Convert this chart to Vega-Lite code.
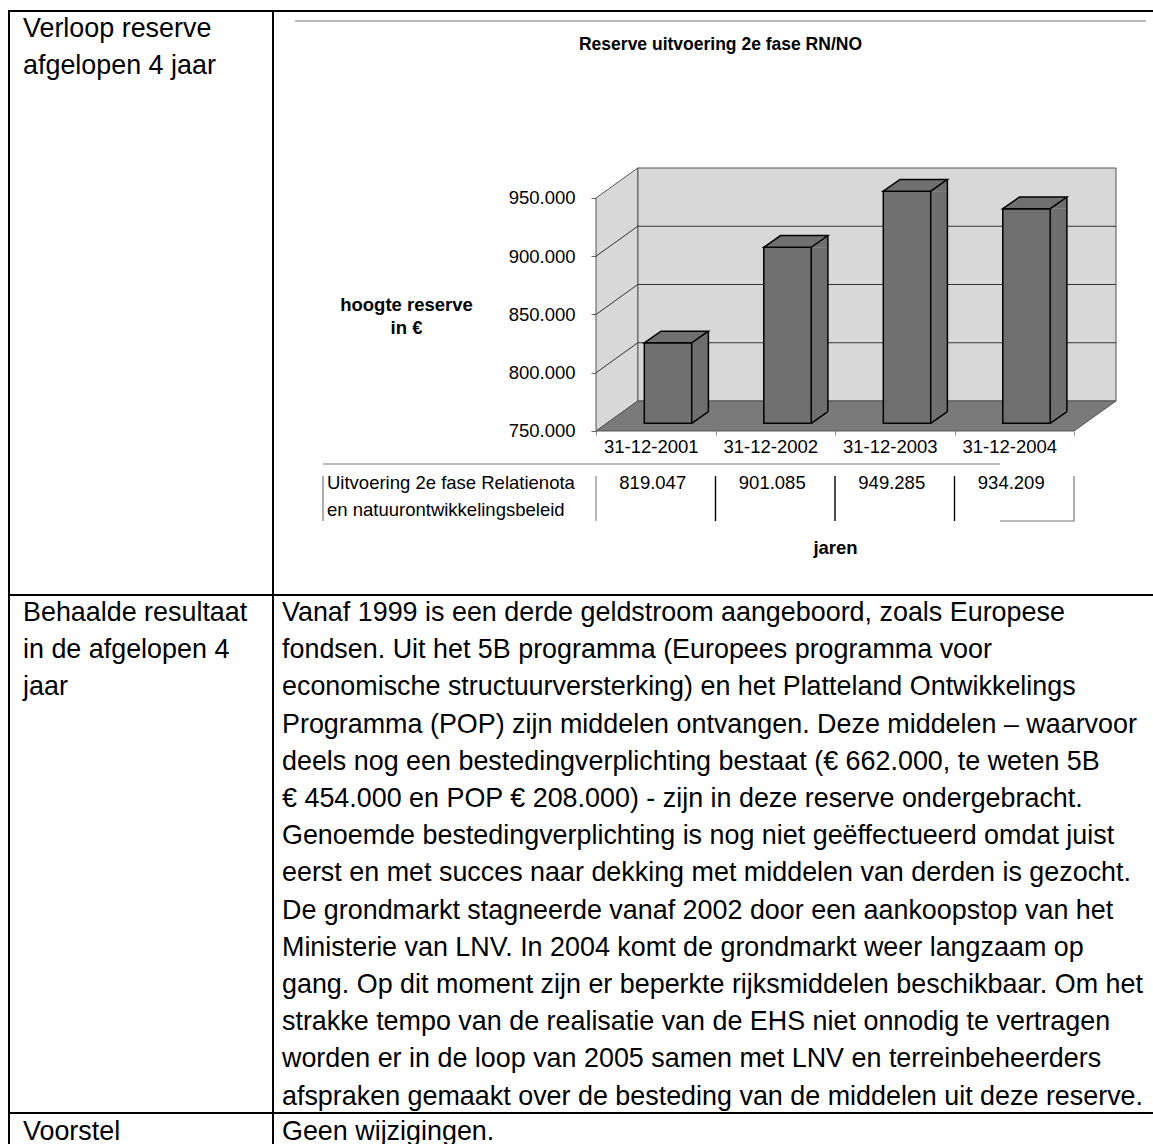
{
  "$schema": "https://vega.github.io/schema/vega-lite/v6.json",
  "padding": {"left": 8, "top": 10, "right": 0, "bottom": 0},
  "background": "#ffffff",
  "columns": 2,
  "spacing": 0,
  "bounds": "flush",
  "config": {
    "font": "Liberation Sans",
    "view": {"stroke": "#000000", "strokeWidth": 2},
    "locale": {"number": {"decimal": ",", "thousands": ".", "grouping": [3], "currency": ["€ ", ""]}}
  },
  "concat": [
    {
      "width": 264,
      "height": 584,
      "data": {"values": [
        {"line": 0, "text": "Verloop reserve"},
        {"line": 1, "text": "afgelopen 4 jaar"}
      ]},
      "mark": {"type": "text", "align": "left", "baseline": "alphabetic", "fontSize": 26.9, "dx": 14, "color": "#000000"},
      "encoding": {
        "x": {"datum": 0, "type": "quantitative", "scale": {"domain": [0, 1]}, "axis": null},
        "y": {"field": "line", "type": "quantitative", "scale": {"domain": [-0.699, 15.0], "reverse": true, "nice": false, "zero": false}, "axis": null},
        "text": {"field": "text", "type": "nominal"}
      }
    },
    {
      "width": 888,
      "height": 584,
      "title": {
        "text": "Reserve uitvoering 2e fase RN/NO",
        "frame": "group",
        "anchor": "middle",
        "offset": -56,
        "baseline": "alphabetic",
        "fontSize": 17.5,
        "fontWeight": "bold",
        "dx": 3.5,
        "color": "#000000"
      },
      "data": {"values": [
        {"date": "31-12-2001", "reserve": 819047},
        {"date": "31-12-2002", "reserve": 901085},
        {"date": "31-12-2003", "reserve": 949285},
        {"date": "31-12-2004", "reserve": 934209}
      ]},
      "encoding": {
        "x": {
          "field": "date",
          "type": "nominal",
          "sort": null,
          "scale": {"paddingInner": 0, "paddingOuter": 0, "range": [323, 801]},
          "axis": {
            "orient": "bottom",
            "offset": -164,
            "domain": false,
            "ticks": true,
            "tickBand": "extent",
            "tickSize": 4,
            "tickColor": "#888888",
            "labelFontSize": 18.5,
            "labelColor": "#000000",
            "labelPadding": 2,
            "labelAngle": 0,
            "labelOffset": -5,
            "title": "jaren",
            "titleFontSize": 18.5,
            "titleFontWeight": "bold",
            "titleColor": "#000000",
            "titleX": 562,
            "titleY": 122,
            "titleAlign": "center",
            "titleBaseline": "alphabetic"
          }
        },
        "y": {
          "field": "reserve",
          "type": "quantitative",
          "scale": {"domain": [609227, 1110515], "zero": false, "nice": false},
          "axis": {
            "values": [750000, 800000, 850000, 900000, 950000],
            "format": ",d",
            "offset": -323,
            "domain": false,
            "grid": false,
            "ticks": true,
            "tickSize": 5,
            "tickColor": "#666666",
            "labelFontSize": 18.5,
            "labelColor": "#000000",
            "labelPadding": 16,
            "title": ["hoogte reserve", "in €"],
            "titleAngle": 0,
            "titleAlign": "center",
            "titleBaseline": "alphabetic",
            "titleFontSize": 18.5,
            "titleFontWeight": "bold",
            "titleColor": "#000000",
            "titleX": -190,
            "titleY": 299,
            "titleLineHeight": 23
          }
        }
      },
      "layer": [
        {
          "transform": [{"filter": "datum.date === '31-12-2001'"}],
          "mark": {"type": "point", "shape": "M-18,-30L460.25,-30L460.25,-263L-18,-263Z", "size": 4, "filled": true, "fill": "#d8d8d8", "stroke": "#555555", "strokeWidth": 1, "opacity": 1},
          "encoding": {
            "y": {"datum": 750000, "type": "quantitative"}
          }
        },
        {
          "transform": [{"filter": "datum.date === '31-12-2001'"}],
          "mark": {"type": "point", "shape": "M-59.75,0L-59.75,-233L-18,-263L-18,-30Z", "size": 4, "filled": true, "fill": "#d8d8d8", "stroke": "#555555", "strokeWidth": 1, "opacity": 1},
          "encoding": {
            "y": {"datum": 750000, "type": "quantitative"}
          }
        },
        {
          "transform": [{"filter": "datum.date === '31-12-2001'"}],
          "mark": {"type": "point", "shape": "M-59.75,0L-18,-30L460.25,-30L418.25,0Z", "size": 4, "filled": true, "fill": "#7a7a7a", "stroke": "#555555", "strokeWidth": 1, "opacity": 1},
          "encoding": {
            "y": {"datum": 750000, "type": "quantitative"}
          }
        },
        {
          "data": {"values": [{"tick": 800000}, {"tick": 850000}, {"tick": 900000}]},
          "mark": {"type": "point", "shape": "M-59.75,0L-18,-30L460.25,-30", "size": 4, "filled": false, "fill": null, "stroke": "#333333", "strokeWidth": 1, "opacity": 1},
          "encoding": {
            "x": {"datum": "31-12-2001", "type": "nominal"},
            "y": {"field": "tick", "type": "quantitative"}
          }
        },
        {
          "mark": {"type": "bar", "width": 16.7, "xOffset": 44.3, "yOffset": -7.7, "y2Offset": -19.4, "fill": "#6e6e6e", "strokeWidth": 0},
          "encoding": {
            "y2": {"datum": 750000}
          }
        },
        {
          "mark": {"type": "point", "shape": "M35.95,-7.7L52.65,-19.4L52.65,-7.7Z", "size": 4, "filled": true, "fill": "#6e6e6e", "strokeWidth": 0, "opacity": 1}
        },
        {
          "mark": {"type": "point", "shape": "M35.95,-7.7L35.95,-19.4L52.65,-19.4Z", "size": 4, "filled": true, "fill": "#6e6e6e", "strokeWidth": 0, "opacity": 1},
          "encoding": {
            "y": {"datum": 750000, "type": "quantitative"}
          }
        },
        {
          "mark": {"type": "bar", "width": 47.4, "xOffset": 12.25, "yOffset": -7.7, "y2Offset": -7.7, "fill": "#707070", "stroke": "#000000", "strokeWidth": 1.5},
          "encoding": {
            "y2": {"datum": 750000}
          }
        },
        {
          "mark": {"type": "point", "shape": "M-11.45,-7.7L5.25,-19.4L52.65,-19.4L35.95,-7.7Z", "size": 4, "filled": true, "fill": "#707070", "stroke": "#000000", "strokeWidth": 1.5, "opacity": 1}
        },
        {
          "mark": {"type": "rule", "xOffset": 52.65, "yOffset": -19.4, "y2Offset": -19.4, "color": "#000000", "strokeWidth": 1.5},
          "encoding": {
            "y2": {"datum": 750000}
          }
        },
        {
          "mark": {"type": "point", "shape": "M35.95,-7.7L52.65,-19.4", "size": 4, "filled": false, "fill": null, "stroke": "#000000", "strokeWidth": 1.5, "opacity": 1},
          "encoding": {
            "y": {"datum": 750000, "type": "quantitative"}
          }
        },
        {
          "transform": [{"filter": "datum.date === '31-12-2001'"}],
          "mark": {"type": "point", "shape": "M-360.75,-410L490.25,-410M-332.75,33L344.25,33M-332.75,45L-332.75,90M418.25,45L418.25,90L344.25,90", "size": 4, "filled": false, "fill": null, "stroke": "#777777", "strokeWidth": 1.2, "opacity": 1},
          "encoding": {
            "y": {"datum": 750000, "type": "quantitative"}
          }
        },
        {
          "mark": {"type": "rule", "yOffset": 45, "y2Offset": 90, "strokeWidth": 1.4},
          "encoding": {
            "x": {"field": "date", "type": "nominal", "bandPosition": 0},
            "y": {"datum": 750000, "type": "quantitative"},
            "y2": {"datum": 750000},
            "color": {"condition": {"test": "datum.date === '31-12-2001'", "value": "#999999"}, "value": "#000000"}
          }
        },
        {
          "mark": {"type": "text", "baseline": "alphabetic", "fontSize": 18.5, "dy": 58, "dx": -3, "color": "#000000"},
          "encoding": {
            "y": {"datum": 750000, "type": "quantitative"},
            "text": {"field": "reserve", "type": "quantitative", "format": ",d"}
          }
        },
        {
          "transform": [{"filter": "datum.date === '31-12-2001'"}],
          "mark": {"type": "text", "align": "left", "baseline": "alphabetic", "fontSize": 18.5, "dx": -328.75, "dy": 58, "lineHeight": 27, "color": "#000000"},
          "encoding": {
            "y": {"datum": 750000, "type": "quantitative"},
            "text": {"value": ["Uitvoering 2e fase Relatienota", "en natuurontwikkelingsbeleid"]}
          }
        }
      ]
    },
    {
      "width": 264,
      "height": 518,
      "data": {"values": [
        {"line": 0, "text": "Behaalde resultaat"},
        {"line": 1, "text": "in de afgelopen 4"},
        {"line": 2, "text": "jaar"}
      ]},
      "mark": {"type": "text", "align": "left", "baseline": "alphabetic", "fontSize": 26.9, "dx": 14, "color": "#000000"},
      "encoding": {
        "x": {"datum": 0, "type": "quantitative", "scale": {"domain": [0, 1]}, "axis": null},
        "y": {"field": "line", "type": "quantitative", "scale": {"domain": [-0.699, 13.226], "reverse": true, "nice": false, "zero": false}, "axis": null},
        "text": {"field": "text", "type": "nominal"}
      }
    },
    {
      "width": 888,
      "height": 518,
      "data": {"values": [
        {"line": 0, "text": "Vanaf 1999 is een derde geldstroom aangeboord, zoals Europese"},
        {"line": 1, "text": "fondsen. Uit het 5B programma (Europees programma voor"},
        {"line": 2, "text": "economische structuurversterking) en het Platteland Ontwikkelings"},
        {"line": 3, "text": "Programma (POP) zijn middelen ontvangen. Deze middelen – waarvoor"},
        {"line": 4, "text": "deels nog een bestedingverplichting bestaat (€ 662.000, te weten 5B"},
        {"line": 5, "text": "€ 454.000 en POP € 208.000) - zijn in deze reserve ondergebracht."},
        {"line": 6, "text": "Genoemde bestedingverplichting is nog niet geëffectueerd omdat juist"},
        {"line": 7, "text": "eerst en met succes naar dekking met middelen van derden is gezocht."},
        {"line": 8, "text": "De grondmarkt stagneerde vanaf 2002 door een aankoopstop van het"},
        {"line": 9, "text": "Ministerie van LNV. In 2004 komt de grondmarkt weer langzaam op"},
        {"line": 10, "text": "gang. Op dit moment zijn er beperkte rijksmiddelen beschikbaar. Om het"},
        {"line": 11, "text": "strakke tempo van de realisatie van de EHS niet onnodig te vertragen"},
        {"line": 12, "text": "worden er in de loop van 2005 samen met LNV en terreinbeheerders"},
        {"line": 13, "text": "afspraken gemaakt over de besteding van de middelen uit deze reserve."}
      ]},
      "mark": {"type": "text", "align": "left", "baseline": "alphabetic", "fontSize": 26.9, "dx": 9, "color": "#000000"},
      "encoding": {
        "x": {"datum": 0, "type": "quantitative", "scale": {"domain": [0, 1]}, "axis": null},
        "y": {"field": "line", "type": "quantitative", "scale": {"domain": [-0.699, 13.226], "reverse": true, "nice": false, "zero": false}, "axis": null},
        "text": {"field": "text", "type": "nominal"}
      }
    },
    {
      "width": 264,
      "height": 48,
      "data": {"values": [{"line": 0, "text": "Voorstel"}]},
      "mark": {"type": "text", "align": "left", "baseline": "alphabetic", "fontSize": 26.9, "dx": 14, "color": "#000000"},
      "encoding": {
        "x": {"datum": 0, "type": "quantitative", "scale": {"domain": [0, 1]}, "axis": null},
        "y": {"field": "line", "type": "quantitative", "scale": {"domain": [-0.7258, 0.5645], "reverse": true, "nice": false, "zero": false}, "axis": null},
        "text": {"field": "text", "type": "nominal"}
      }
    },
    {
      "width": 888,
      "height": 48,
      "data": {"values": [{"line": 0, "text": "Geen wijzigingen."}]},
      "mark": {"type": "text", "align": "left", "baseline": "alphabetic", "fontSize": 26.9, "dx": 9, "color": "#000000"},
      "encoding": {
        "x": {"datum": 0, "type": "quantitative", "scale": {"domain": [0, 1]}, "axis": null},
        "y": {"field": "line", "type": "quantitative", "scale": {"domain": [-0.7258, 0.5645], "reverse": true, "nice": false, "zero": false}, "axis": null},
        "text": {"field": "text", "type": "nominal"}
      }
    }
  ]
}
